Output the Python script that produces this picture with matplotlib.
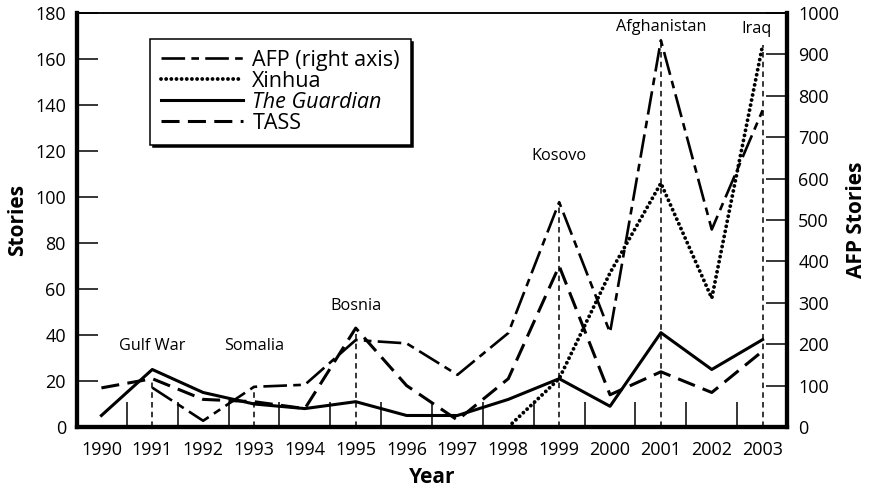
import numpy as np
import matplotlib
matplotlib.use('Agg')
import matplotlib.pyplot as plt

plt.rcParams['font.family'] = ['Open Sans', 'DejaVu Sans']
plt.rcParams['lines.scale_dashes'] = False

# data
years = [1990, 1991, 1992, 1993, 1994, 1995, 1996, 1997, 1998, 1999, 2000, 2001, 2002, 2003]
afp = [np.nan, 95, 15, 97, 102, 210, 202, 126, 227, 543, 228, 934, 477, 765]
xinhua = [0, 0, 0, 0, 0, 0, 0, 0, 0, 21, 67, 106, 56, 166]
guardian = [5, 25, 15, 10, 8, 11, 5, 5, 12, 21, 9, 41, 25, 38]
tass = [17, 21, 12, 11, 8, 43, 18, 3, 21, 70, 14, 24, 15, 33]

event_names = ['Gulf War', 'Somalia', 'Bosnia', 'Kosovo', 'Afghanistan', 'Iraq']
event_years = [1991, 1993, 1995, 1999, 2001, 2003]

left_max = 180
right_max = 1000
scale = left_max / right_max

fig = plt.figure(figsize=(8.71, 4.90), dpi=100)
ax = fig.add_axes([0.0884, 0.1286, 0.8152, 0.8449])
ax2 = ax.twinx()

afp_line, = ax.plot(years, np.array(afp) * scale, color='black', lw=1.9,
                    linestyle=(0, (17, 4.5, 5.5, 4.5)))
xin_line, = ax.plot(years, xinhua, color='black', lw=2.8,
                    linestyle=(0, (0.01, 3.7)), dash_capstyle='round')
gua_line, = ax.plot(years, guardian, color='black', lw=2.2)
tass_line, = ax.plot(years, tass, color='black', lw=2.2,
                     linestyle=(0, (13, 6)))

# event markers: dashed line from axis up to the highest wire-service value
wire = np.vstack([np.nan_to_num(np.array(afp) * scale), xinhua, tass])
tops = wire.max(axis=0)
label_y = [35, 35, 52.5, 118, 174, 173]
label_dx = [0, 0, 0, 0, 0, -0.12]
for name, yr, ly, dx in zip(event_names, event_years, label_y, label_dx):
    i = years.index(yr)
    ax.plot([yr, yr], [0, tops[i]], color='black', lw=1.1,
            linestyle=(0, (4, 3)), zorder=1)
    ax.text(yr + dx, ly, name, ha='center', va='center', fontsize=11.7)

ax.set_xlim(1989.52, 2003.48)
ax.set_ylim(0, left_max)
ax2.set_ylim(0, right_max)

ax.set_xticks(years)
ax.set_xticks(np.arange(1990.5, 2003, 1), minor=True)
ax.tick_params(axis='x', which='major', length=0, labelsize=13, pad=10)
ax.tick_params(axis='x', which='minor', direction='in', length=18, width=1.1)
ax.set_yticks(np.arange(0, left_max + 1, 20))
ax.tick_params(axis='y', direction='in', length=15, width=1.1, labelsize=13, pad=8)
ax2.set_yticks(np.arange(0, right_max + 1, 100))
ax2.tick_params(axis='y', direction='in', length=15, width=1.1, labelsize=13, pad=8)

for a in (ax, ax2):
    for side in ('left', 'bottom', 'right'):
        a.spines[side].set_linewidth(3)
    a.spines['top'].set_linewidth(1.1)

ax.set_xlabel('Year', fontsize=15, fontweight='bold', labelpad=6)
ax.set_ylabel('Stories', fontsize=15, fontweight='bold', labelpad=5)
ax2.set_ylabel('AFP Stories', fontsize=15, fontweight='bold', labelpad=5)

leg = ax.legend([afp_line, xin_line, gua_line, tass_line],
                ['AFP (right axis)', 'Xinhua', 'The Guardian', 'TASS'],
                loc='upper left', bbox_to_anchor=(0.103, 0.937), borderaxespad=0,
                fontsize=15.5, handlelength=3.8, labelspacing=0.0,
                fancybox=False, framealpha=1, edgecolor='black',
                shadow={'facecolor': 'black', 'edgecolor': 'black', 'alpha': 1},
                borderpad=0.5, handletextpad=0.45)
leg.get_frame().set_linewidth(1.1)
leg.get_texts()[2].set_style('italic')

fig.savefig('out.png', dpi=100)
